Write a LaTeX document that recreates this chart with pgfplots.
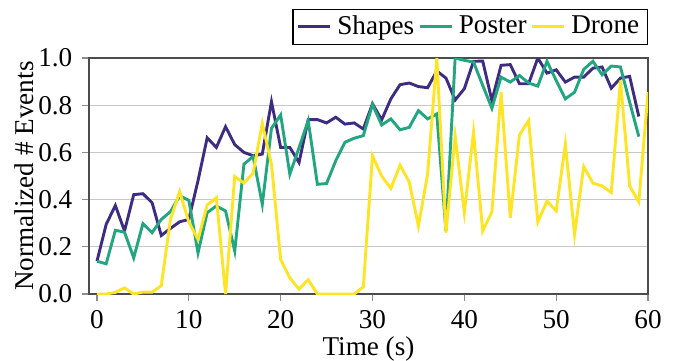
\documentclass[border=0pt]{standalone}
\usepackage{fontspec}
\setmainfont{Liberation Serif}
\usepackage{pgfplots}
\pgfplotsset{compat=1.18}
\definecolor{cShapes}{RGB}{62,44,130}
\definecolor{cPoster}{RGB}{33,166,128}
\definecolor{cDrone}{RGB}{253,228,37}
\begin{document}
\fontsize{10.3}{12}\selectfont
\begin{tikzpicture}
\begin{axis}[
  at={(0,0)}, anchor=south west,
  scale only axis,
  width=212pt, height=89.5pt,
  xmin=-0.87, xmax=60, ymin=0, ymax=1,
  xtick={0,10,...,60},
  ytick={0,0.2,...,1.0},
  yticklabel style={/pgf/number format/fixed,/pgf/number format/fixed zerofill,/pgf/number format/precision=1},
  /pgf/number format/assume math mode=true,
  ticklabel style={font=\fontsize{10.3}{12}\selectfont},
  ymajorgrids, grid style={black!22, line width=0.5pt},
  tick align=outside, tick pos=left, major tick length=2.7pt,
  major tick style={black!45, line width=0.5pt},
  axis line style={black!70, line width=0.6pt},
  xlabel={Time (s)}, ylabel={Normalized \# Events},
  every axis x label/.style={at={(axis description cs:0.5,0)}, anchor=base, yshift=-23.4pt, font=\fontsize{10.3}{12}\selectfont},
  every axis y label/.style={at={(axis description cs:0,0.5)}, anchor=base, rotate=90, yshift=21.2pt, font=\fontsize{10.3}{12}\selectfont},
  legend columns=3,
  legend style={at={(1,1)}, anchor=south east, yshift=4.9pt, draw=black, line width=0.5pt,
    inner xsep=1.5pt, inner ysep=1pt, font=\fontsize{10.3}{12}\selectfont,
    nodes={inner xsep=1.6pt, inner ysep=1.3pt},
    /tikz/every odd column/.append style={column sep=0.6pt}},
  legend image code/.code={\draw[#1] (0pt,0pt) -- (12pt,0pt);},
  legend image post style={line width=1.1pt},
  every axis plot/.append style={line width=1.1pt, mark=none},
]
\addplot[cShapes] coordinates {
(0,0.139)(1,0.295)(2,0.375)(3,0.267)(4,0.421)(5,0.425)(6,0.387)(7,0.248)(8,0.278)(9,0.306)
(10,0.316)(11,0.48)(12,0.662)(13,0.621)(14,0.709)(15,0.633)(16,0.600)(17,0.586)(18,0.593)(19,0.815)
(20,0.621)(21,0.621)(22,0.557)(23,0.739)(24,0.739)(25,0.725)(26,0.749)(27,0.720)(28,0.725)(29,0.699)
(30,0.806)(31,0.738)(32,0.827)(33,0.887)(34,0.894)(35,0.879)(36,0.874)(37,0.945)(38,0.915)(39,0.822)
(40,0.870)(41,0.986)(42,0.987)(43,0.820)(44,0.969)(45,0.972)(46,0.891)(47,0.891)(48,1.000)(49,0.936)
(50,0.950)(51,0.898)(52,0.919)(53,0.919)(54,0.957)(55,0.962)(56,0.872)(57,0.915)(58,0.922)(59,0.752)
};
\addlegendentry{Shapes}
\addplot[cPoster] coordinates {
(0,0.139)(1,0.128)(2,0.270)(3,0.262)(4,0.153)(5,0.298)(6,0.260)(7,0.316)(8,0.349)(9,0.416)
(10,0.397)(11,0.174)(12,0.345)(13,0.373)(14,0.352)(15,0.182)(16,0.550)(17,0.583)(18,0.380)(19,0.702)
(20,0.759)(21,0.508)(22,0.620)(23,0.735)(24,0.465)(25,0.468)(26,0.565)(27,0.643)(28,0.660)(29,0.671)
(30,0.803)(31,0.716)(32,0.742)(33,0.696)(34,0.706)(35,0.777)(36,0.742)(37,0.763)(38,0.267)(39,1.000)
(40,0.990)(41,0.983)(42,0.884)(43,0.787)(44,0.919)(45,0.898)(46,0.926)(47,0.894)(48,0.881)(49,0.986)
(50,0.905)(51,0.827)(52,0.855)(53,0.952)(54,0.986)(55,0.929)(56,0.966)(57,0.962)(58,0.813)(59,0.667)
};
\addlegendentry{Poster}
\addplot[cDrone] coordinates {
(0,0.000)(1,0.000)(2,0.007)(3,0.026)(4,0.000)(5,0.008)(6,0.008)(7,0.035)(8,0.316)(9,0.434)
(10,0.305)(11,0.231)(12,0.377)(13,0.408)(14,0.000)(15,0.498)(16,0.470)(17,0.512)(18,0.723)(19,0.550)
(20,0.146)(21,0.068)(22,0.021)(23,0.061)(24,0.000)(25,0.000)(26,0.000)(27,0.000)(28,0.000)(29,0.030)
(30,0.586)(31,0.500)(32,0.447)(33,0.546)(34,0.475)(35,0.288)(36,0.508)(37,1.000)(38,0.260)(39,0.670)
(40,0.345)(41,0.685)(42,0.267)(43,0.348)(44,0.855)(45,0.323)(46,0.674)(47,0.735)(48,0.305)(49,0.394)
(50,0.352)(51,0.635)(52,0.252)(53,0.540)(54,0.470)(55,0.458)(56,0.430)(57,0.905)(58,0.458)(59,0.390)
(60,0.855)
};
\addlegendentry{Drone}
\end{axis}
\pgfresetboundingbox
\path[use as bounding box] (-33.75pt,-25.03pt) rectangle (222.24pt,111.5pt);
\end{tikzpicture}
\end{document}
